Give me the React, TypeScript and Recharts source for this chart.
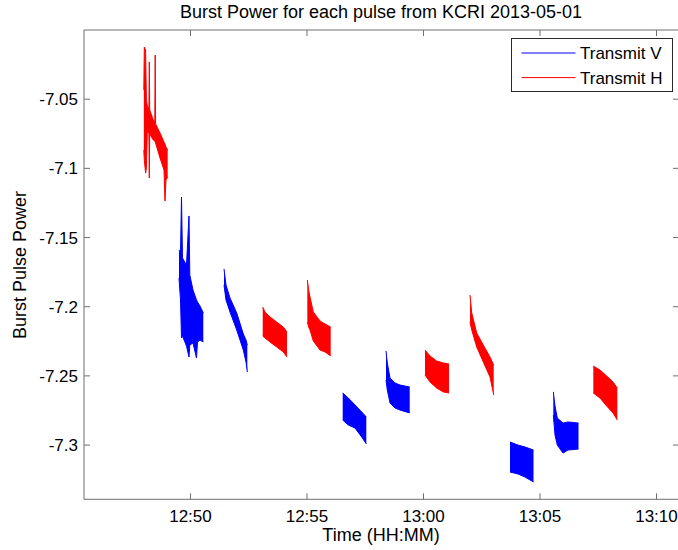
import React from "react";
import { ComposedChart, Area, XAxis, YAxis, Legend } from "recharts";

const FONT = '"Liberation Sans", Arial, Helvetica, sans-serif';

const seriesNames = ["Transmit V", "Transmit H"];
const seriesColors = ["#0000ff", "#ff0000"];
const xTicks = [50, 55, 60, 65, 70]; // minutes after 12:00
const yTicks = [-7.3, -7.25, -7.2, -7.15, -7.1, -7.05];
const xDomain = [45.43, 70.966];
const yDomain = [-7.3392, -7.0];
const titleText = "Burst Power for each pulse from KCRI 2013-05-01";
const xLabel = "Time (HH:MM)";
const yLabel = "Burst Pulse Power";

// each burst: [time (min after 12:00), upper value, lower value]
const h1 = [
  [47.997, -7.0434, -7.0867],
  [48.018, -7.0123, -7.094],
  [48.074, -7.0145, -7.1034],
  [48.108, -7.0506, -7.0997],
  [48.147, -7.0549, -7.073],
  [48.215, -7.0571, -7.0744],
  [48.233, -7.0231, -7.107],
  [48.25, -7.0578, -7.0752],
  [48.404, -7.0651, -7.0795],
  [48.469, -7.0665, -7.0802],
  [48.486, -7.0181, -7.081],
  [48.503, -7.0679, -7.0817],
  [48.692, -7.0744, -7.0925],
  [48.864, -7.081, -7.1012],
  [48.906, -7.0824, -7.1236],
  [48.949, -7.0846, -7.1084],
  [49.022, -7.0867, -7.1062],
];
const v1 = [
  [49.507, -7.159, -7.1792],
  [49.572, -7.1612, -7.1951],
  [49.615, -7.1207, -7.2226],
  [49.657, -7.1648, -7.2212],
  [49.829, -7.1698, -7.2284],
  [49.936, -7.1344, -7.2364],
  [49.971, -7.1771, -7.2277],
  [50.108, -7.1879, -7.2262],
  [50.258, -7.1951, -7.2371],
  [50.301, -7.1966, -7.2255],
  [50.409, -7.1995, -7.2241],
  [50.55, -7.2045, -7.2255],
];
const v2 = [
  [51.439, -7.1727, -7.1843],
  [51.524, -7.1843, -7.1951],
  [51.696, -7.1937, -7.2038],
  [51.984, -7.2045, -7.2168],
  [52.267, -7.2197, -7.2313],
  [52.383, -7.2241, -7.24],
  [52.439, -7.2277, -7.2472],
];
const h2 = [
  [53.1, -7.2002, -7.2212],
  [53.198, -7.2038, -7.2226],
  [53.413, -7.2074, -7.2255],
  [53.7, -7.2111, -7.2291],
  [53.984, -7.2147, -7.2327],
  [54.142, -7.2183, -7.2364],
];
const h3 = [
  [55.014, -7.1807, -7.2111],
  [55.087, -7.1894, -7.2154],
  [55.13, -7.193, -7.2168],
  [55.271, -7.2038, -7.2248],
  [55.559, -7.2103, -7.2313],
  [55.773, -7.2125, -7.2327],
  [56.018, -7.2147, -7.2356],
];
const v3 = [
  [56.533, -7.2623, -7.2819],
  [56.773, -7.266, -7.2855],
  [57.061, -7.271, -7.2877],
  [57.349, -7.2761, -7.2942],
  [57.546, -7.2797, -7.2992],
];
const v4 = [
  [58.391, -7.232, -7.253],
  [58.447, -7.2407, -7.2602],
  [58.563, -7.2515, -7.2696],
  [58.778, -7.2551, -7.2732],
  [58.992, -7.2566, -7.2747],
  [59.409, -7.258, -7.2768],
];
const h4 = [
  [60.065, -7.2313, -7.2494],
  [60.28, -7.2356, -7.2544],
  [60.567, -7.2392, -7.2588],
  [60.851, -7.2407, -7.2616],
  [61.095, -7.2414, -7.2624],
];
const h5 = [
  [61.996, -7.1915, -7.2111],
  [62.07, -7.2045, -7.2168],
  [62.284, -7.219, -7.2291],
  [62.567, -7.2277, -7.24],
  [62.855, -7.2364, -7.2508],
  [63.014, -7.2422, -7.2638],
];
const v5 = [
  [63.713, -7.2978, -7.3195],
  [64.057, -7.3, -7.3209],
  [64.357, -7.3014, -7.3231],
  [64.722, -7.3036, -7.3267],
];
const v6 = [
  [65.572, -7.2616, -7.2783],
  [65.645, -7.2718, -7.2928],
  [65.743, -7.2805, -7.3],
  [65.988, -7.2841, -7.3058],
  [66.203, -7.2833, -7.3036],
  [66.653, -7.2841, -7.3029],
];
const h6 = [
  [67.288, -7.2429, -7.2624],
  [67.576, -7.2458, -7.266],
  [67.863, -7.2501, -7.2718],
  [68.134, -7.2544, -7.2768],
  [68.318, -7.2588, -7.2819],
];

const transmitV = [v1, v2, v3, v4, v5, v6];
const transmitH = [h1, h2, h3, h4, h5, h6];

const toRows = (burst: number[][]) => burst.map(([t, hi, lo]) => ({ t, band: [lo, hi] }));

const fmtTime = (m: number) => {
  const h = 12 + Math.floor(m / 60);
  const mm = Math.round(m % 60);
  return `${h}:${mm < 10 ? "0" + mm : mm}`;
};
const fmtVal = (v: number) => String(Number(v.toFixed(2)));

const AXIS = "#6e6e6e";
const noLabel = () => <g />;

const LegendBox = () => (
  <div
    style={{
      width: 162,
      height: 54,
      border: "1px solid #2a2a2a",
      background: "#fff",
      boxSizing: "border-box",
    }}
  >
    <svg width={160} height={52} style={{ display: "block" }}>
      {seriesNames.map((n, i) => (
        <g key={n}>
          <line x1={9.5} x2={63.5} y1={14 + i * 24.6} y2={14 + i * 24.6} stroke={seriesColors[i]} strokeWidth={1} />
          <text x={68} y={20 + i * 24.6} fontSize={17} fontFamily={FONT} fill="#000">
            {n}
          </text>
        </g>
      ))}
    </svg>
  </div>
);

// V series drawn against bottom/left axes, H series against the mirrored top/right axes
// (identical domains), so every axis carries data and draws its inward ticks.
const axisPairs = [
  { x: "b", y: "l" },
  { x: "t", y: "r" },
];

export default function App() {
  const groups = [transmitV, transmitH];
  return (
    <div style={{ position: "absolute", left: 0, top: 0, width: 678, height: 550, background: "#fff" }}>
      <ComposedChart width={678} height={550} margin={{ top: 29, right: -2, bottom: 0, left: 0 }}>
        <XAxis
          xAxisId="b"
          dataKey="t"
          type="number"
          domain={xDomain}
          allowDataOverflow
          ticks={xTicks}
          tickFormatter={fmtTime}
          height={50.7}
          tickSize={-6}
          tickMargin={16.7}
          interval={0}
          axisLine={{ stroke: AXIS, strokeWidth: 1 }}
          tickLine={{ stroke: AXIS, strokeWidth: 1 }}
          tick={{ fill: "#000", fontSize: 17, fontFamily: FONT }}
        />
        <XAxis
          xAxisId="t"
          orientation="top"
          dataKey="t"
          type="number"
          domain={xDomain}
          allowDataOverflow
          ticks={xTicks}
          height={1}
          tickSize={-6}
          interval={0}
          tick={noLabel}
          axisLine={{ stroke: AXIS, strokeWidth: 1 }}
          tickLine={{ stroke: AXIS, strokeWidth: 1 }}
        />
        <YAxis
          yAxisId="l"
          type="number"
          domain={yDomain}
          allowDataOverflow
          ticks={yTicks}
          tickFormatter={fmtVal}
          width={84}
          tickSize={-6}
          tickMargin={12}
          interval={0}
          axisLine={{ stroke: AXIS, strokeWidth: 1 }}
          tickLine={{ stroke: AXIS, strokeWidth: 1 }}
          tick={{ fill: "#000", fontSize: 17, fontFamily: FONT }}
        />
        <YAxis
          yAxisId="r"
          orientation="right"
          type="number"
          domain={yDomain}
          allowDataOverflow
          ticks={yTicks}
          width={1}
          tickSize={-6}
          interval={0}
          tick={noLabel}
          axisLine={{ stroke: AXIS, strokeWidth: 1 }}
          tickLine={{ stroke: AXIS, strokeWidth: 1 }}
        />
        {groups.map((g, gi) =>
          g.map((b, bi) => (
            <Area
              key={`${gi}-${bi}`}
              xAxisId={axisPairs[gi].x}
              yAxisId={axisPairs[gi].y}
              data={toRows(b)}
              dataKey="band"
              name={seriesNames[gi]}
              type="linear"
              stroke={seriesColors[gi]}
              strokeWidth={1}
              fill={seriesColors[gi]}
              fillOpacity={1}
              dot={false}
              activeDot={false}
              isAnimationActive={false}
            />
          ))
        )}
        <Legend
          layout="horizontal"
          verticalAlign="middle"
          align="center"
          content={() => <LegendBox />}
          wrapperStyle={{ left: 511, top: 38, width: 162, height: 54 }}
        />
      </ComposedChart>
      <svg
        width={678}
        height={550}
        style={{ position: "absolute", left: 0, top: 0, pointerEvents: "none" }}
      >
        <text x={381} y={18} textAnchor="middle" fontSize={18} fontFamily={FONT} fill="#000">
          {titleText}
        </text>
        <text x={381} y={541} textAnchor="middle" fontSize={18} fontFamily={FONT} fill="#000">
          {xLabel}
        </text>
        <text
          x={26}
          y={265}
          textAnchor="middle"
          fontSize={18}
          fontFamily={FONT}
          fill="#000"
          transform="rotate(-90, 26, 265)"
        >
          {yLabel}
        </text>
      </svg>
    </div>
  );
}
